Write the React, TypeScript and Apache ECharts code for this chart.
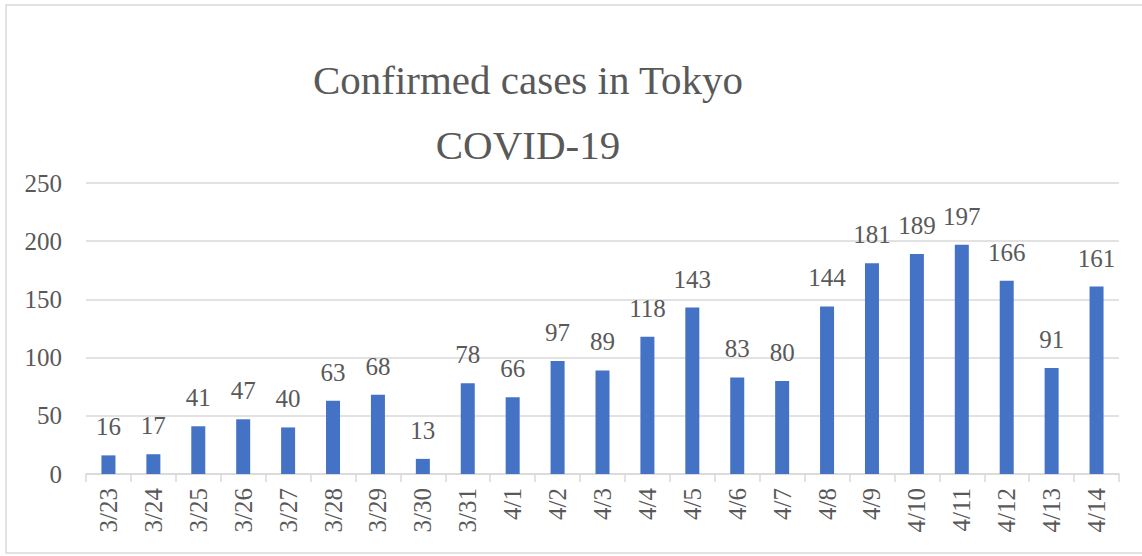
import React, { useEffect, useRef } from "react";
import * as echarts from "echarts";

const categories = ["3/23","3/24","3/25","3/26","3/27","3/28","3/29","3/30","3/31","4/1","4/2","4/3","4/4","4/5","4/6","4/7","4/8","4/9","4/10","4/11","4/12","4/13","4/14"];
const cases = [16,17,41,47,40,63,68,13,78,66,97,89,118,143,83,80,144,181,189,197,166,91,161];
const titleLines = ["Confirmed cases in Tokyo", "COVID-19"];
const yMin = 0;
const yMax = 250;
const yStep = 50;

const FONT = "Liberation Serif";
const TEXT = "#595959";

export default function App() {
  const ref = useRef<HTMLDivElement>(null);
  useEffect(() => {
    document.body.style.margin = "0";
    if (!ref.current) return;
    const chart = echarts.init(ref.current, undefined, { renderer: "svg" });
    chart.setOption({
      animation: false,
      backgroundColor: "#ffffff",
      graphic: [
        {
          type: "rect",
          shape: { x: 6, y: 5, width: 1150, height: 548 },
          style: { fill: "none", stroke: "#d9d9d9", lineWidth: 1.5 },
          silent: true,
        },
        {
          type: "text",
          x: 528,
          y: 100,
          style: { text: titleLines[0], fontFamily: FONT, fontSize: 41, fill: TEXT, textAlign: "center", textVerticalAlign: "bottom" },
        },
        {
          type: "text",
          x: 528,
          y: 165,
          style: { text: titleLines[1], fontFamily: FONT, fontSize: 41, fill: TEXT, textAlign: "center", textVerticalAlign: "bottom" },
        },
      ],
      grid: { left: 86, right: 23, top: 183, bottom: 82, containLabel: false },
      xAxis: {
        type: "category",
        data: categories,
        axisLine: { show: true, lineStyle: { color: "#d9d9d9", width: 1.5 } },
        axisTick: { show: true, interval: 0, alignWithLabel: false, length: 8, lineStyle: { color: "#d9d9d9", width: 1.5 } },
        axisLabel: { interval: 0, rotate: 90, color: TEXT, fontFamily: FONT, fontSize: 25, margin: 14 },
      },
      yAxis: {
        type: "value",
        min: yMin,
        max: yMax,
        interval: yStep,
        axisLine: { show: false },
        axisTick: { show: false },
        splitLine: { lineStyle: { color: "#d9d9d9", width: 1.5 } },
        axisLabel: { color: TEXT, fontFamily: FONT, fontSize: 25, margin: 24 },
      },
      series: [
        {
          type: "bar",
          data: cases,
          barWidth: 14,
          itemStyle: { color: "#4472C4" },
          label: { show: true, position: "top", distance: 16, color: TEXT, fontFamily: FONT, fontSize: 25 },
        },
      ],
    });
    return () => chart.dispose();
  }, []);
  return <div ref={ref} style={{ width: 1142, height: 556 }} />;
}
